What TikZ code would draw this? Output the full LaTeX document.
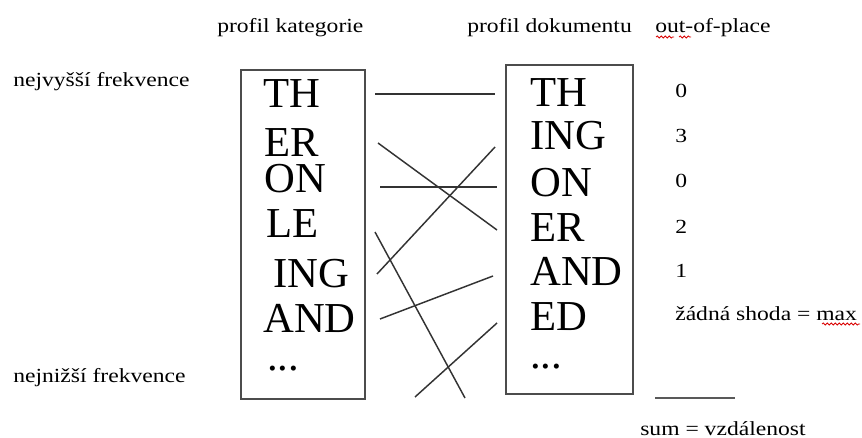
\documentclass[tikz,border=0pt]{standalone}
\usepackage{fontspec}
\setmainfont{Liberation Serif}
\usetikzlibrary{decorations.pathmorphing}
\newcommand{\sx}[1]{\scalebox{1.18}[1]{#1}}
\tikzset{
  small/.style={anchor=base west, inner sep=0pt, font=\fontsize{15}{18}\selectfont},
  big/.style={anchor=base west, inner sep=0pt, text height=21pt, text depth=0pt, font=\fontsize{32}{36}\selectfont},
  frame/.style={draw=black!70, line width=1.2pt},
  link/.style={draw=black!80, line width=1.1pt},
  squiggle/.style={draw=red!85!black, line width=0.6pt, decorate, decoration={snake, amplitude=0.8pt, segment length=3pt}}
}
\begin{document}
\begin{tikzpicture}[x=0.75pt,y=-0.75pt]
\useasboundingbox (0,0) rectangle (862,438);
% headers
\node[small] (hk) at (217,33) {\sx{profil kategorie}};
\node[small] (hd) at (467,33) {\sx{profil dokumentu}};
\node[small] (ho) at (655,33) {\sx{out-of-place}};
\node[small] (top) at (13,87) {\sx{nejvyšší frekvence}};
\node[small] (bot) at (13,382) {\sx{nejnižší frekvence}};
% boxes
\node[frame, minimum width=124*0.75pt, minimum height=329*0.75pt, inner sep=0pt, anchor=north west] (lbox) at (240,69) {};
\node[frame, minimum width=127*0.75pt, minimum height=329*0.75pt, inner sep=0pt, anchor=north west] (rbox) at (505,64) {};
% left entries
\node[big] (l1) at (263,108) {TH};
\node[big] (l2) at (264,157) {ER};
\node[big] (l3) at (264,193) {ON};
\node[big] (l4) at (266,237) {LE};
\node[big] (l5) at (273,287) {ING};
\node[big] (l6) at (263,332) {AND};
\node[big] (l7) at (267,370) {...};
% right entries
\node[big] (r1) at (530,107) {TH};
\node[big] (r2) at (530,150) {ING};
\node[big] (r3) at (530,196) {ON};
\node[big] (r4) at (530,241) {ER};
\node[big] (r5) at (530,285) {AND};
\node[big] (r6) at (530,330) {ED};
\node[big] (r7) at (530,368) {...};
% connector end points
\coordinate (a1) at (375,94);  \coordinate (b1) at (495,94);
\coordinate (a2) at (378,143); \coordinate (b2) at (497,230);
\coordinate (a3) at (380,187); \coordinate (b3) at (497,187);
\coordinate (a4) at (377,274); \coordinate (b4) at (495,147);
\coordinate (a5) at (375,232); \coordinate (b5) at (465,398);
\coordinate (a6) at (380,319); \coordinate (b6) at (493,276);
\coordinate (a7) at (415,397); \coordinate (b7) at (497,323);
\foreach \i in {1,...,7} { \draw[link] (a\i) -- (b\i); }
% out-of-place values
\node[small] (v1) at (675,98) {\sx{0}};
\node[small] (v2) at (675,143) {\sx{3}};
\node[small] (v3) at (675,188) {\sx{0}};
\node[small] (v4) at (675,233) {\sx{2}};
\node[small] (v5) at (675,277) {\sx{1}};
\node[small] (v6) at (675,320) {\sx{žádná shoda = max}};
\coordinate (s1) at (655,398); \coordinate (s2) at (735,398);
\draw[draw=black!65, line width=1.1pt] (s1) -- (s2);
\node[small] (sum) at (640,435) {\sx{sum = vzdálenost}};
% spell-check marks
\draw[squiggle] (656,37) -- (674,37);
\draw[squiggle] (679,37) -- (691,37);
\draw[squiggle] (822,324) -- (860,324);
\end{tikzpicture}
\end{document}
